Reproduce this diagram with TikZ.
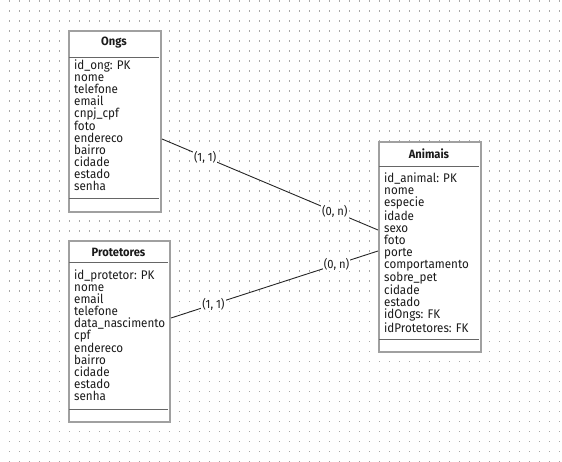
\documentclass[tikz,border=0pt]{standalone}
\usepackage{fontspec}
\setmainfont{Fira Sans}[FakeStretch=0.93]
\definecolor{bordergray}{HTML}{A0A0A0}
\definecolor{sepgray}{HTML}{666666}
\definecolor{dotgray}{HTML}{A8A8A8}
\definecolor{txt}{HTML}{1A1A1A}
\begin{document}
\begin{tikzpicture}[x=1pt,y=-1pt,
  entbox/.style={draw=bordergray,line width=2pt,fill=white,inner sep=0pt,anchor=north west},
  sepline/.style={draw=sepgray,line width=1pt},
  title/.style={font=\fontsize{12}{12}\selectfont\bfseries,text=txt,inner sep=0pt},
  attrs/.style={font=\fontsize{12.5}{12}\selectfont,text=txt,align=left,anchor=north west,inner sep=0pt},
  rel/.style={draw=black!85,line width=0.9pt},
  card/.style={fill=white,inner sep=1pt,font=\fontsize{12}{12}\selectfont,text=txt}]
\useasboundingbox (0,0) rectangle (562,462);
\fill[white] (0,0) rectangle (562,462);
\foreach \i in {0,...,55}{\foreach \j in {0,...,46}{
  \fill[dotgray] (8.5+10*\i,0.5+10*\j) rectangle ++(1.2,1.2);}}
% Ongs
\node[entbox,minimum width=92pt,minimum height=181pt] (ongs) at (68,30) {};
\draw[sepline] (69,58) -- (159,58);
\draw[sepline] (69,199) -- (159,199);
\node[title] (ongst) at (114,43) {Ongs};
\node[attrs] (ongsa) at (74,60) {id\_ong: PK\\nome\\telefone\\email\\cnpj\_cpf\\foto\\endereco\\bairro\\cidade\\estado\\senha};
% Protetores
\node[entbox,minimum width=101pt,minimum height=181pt] (prot) at (68,240) {};
\draw[sepline] (69,263) -- (168,263);
\draw[sepline] (69,409) -- (168,409);
\node[title] (prott) at (118.5,252) {Protetores};
\node[attrs] (prota) at (74,270) {id\_protetor: PK\\nome\\email\\telefone\\data\_nascimento\\cpf\\endereco\\bairro\\cidade\\estado\\senha};
% Animais
\node[entbox,minimum width=102pt,minimum height=210pt] (anim) at (378,141) {};
\draw[sepline] (379,167) -- (479,167);
\draw[sepline] (379,339) -- (479,339);
\node[title] (animt) at (429,154) {Animais};
\node[attrs] (anima) at (384,173) {id\_animal: PK\\nome\\especie\\idade\\sexo\\foto\\porte\\comportamento\\sobre\_pet\\cidade\\estado\\idOngs: FK\\idProtetores: FK};
% relations
\draw[rel] ([yshift=-109pt]ongs.north east) -- node[card,pos=0.2] (c1) {(1, 1)} node[card,pos=0.8] (c2) {(0, n)} ([yshift=-89pt]anim.north west);
\draw[rel] ([yshift=-78pt]prot.north east) -- node[card,pos=0.205] (c3) {(1, 1)} node[card,pos=0.8] (c4) {(0, n)} ([yshift=-110pt]anim.north west);
\end{tikzpicture}
\end{document}
